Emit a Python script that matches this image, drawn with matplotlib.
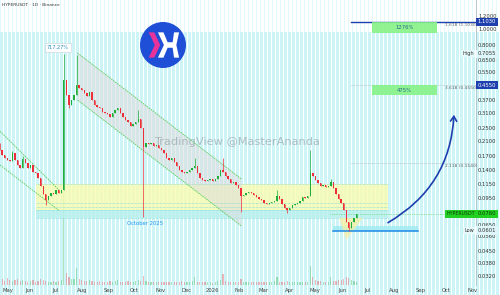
import numpy as np
import pandas as pd
import matplotlib
matplotlib.use("Agg")
import matplotlib.pyplot as plt
import matplotlib.transforms as mtransforms
from matplotlib.patches import Rectangle, Polygon, Circle, FancyArrowPatch
from matplotlib.ticker import NullLocator

plt.rcParams['font.family'] = ['DejaVu Sans']

# ---------------- data ----------------
symbol_title = "HYPERUSDT · 1D · Binance"
candle_start = "2025-04-27"
candle_step_days = 3
first_open = 0.1900
closes = [
    0.1849, 0.1724, 0.1653, 0.1608, 0.1585, 0.1773, 0.1608, 0.1499, 0.1438, 0.1630,
    0.1542, 0.1438, 0.1499, 0.1360, 0.1341, 0.1250, 0.1118, 0.1000, 0.0920, 0.0972,
    0.1014, 0.1000, 0.1057, 0.1014, 0.1057, 0.4908, 0.3981, 0.3463, 0.3713, 0.3981,
    0.4576, 0.4389, 0.4270, 0.4094, 0.3925, 0.4152, 0.3713, 0.3463, 0.3368, 0.3321,
    0.3141, 0.3097, 0.3054, 0.2929, 0.3097, 0.3229, 0.3321, 0.3097, 0.2929, 0.2809,
    0.2731, 0.2583, 0.2656, 0.2731, 0.2848, 0.2512, 0.1929, 0.2040, 0.2011, 0.2040,
    0.1956, 0.1983, 0.1902, 0.1849, 0.1773, 0.1653, 0.1608, 0.1653, 0.1563, 0.1478,
    0.1398, 0.1360, 0.1341, 0.1360, 0.1398, 0.1438, 0.1478, 0.1341, 0.1250, 0.1216,
    0.1199, 0.1216, 0.1233, 0.1199, 0.1233, 0.1286, 0.1398, 0.1360, 0.1286, 0.1233,
    0.1166, 0.1182, 0.1134, 0.1087, 0.0972, 0.0986, 0.1014, 0.1028, 0.1014, 0.0986,
    0.0959, 0.0933, 0.0920, 0.0882, 0.0870, 0.0882, 0.0894, 0.0907, 0.0972, 0.0933,
    0.0870, 0.0822, 0.0800, 0.0822, 0.0858, 0.0870, 0.0882, 0.0907, 0.0959, 0.0946,
    0.0972, 0.1341, 0.1286, 0.1216, 0.1166, 0.1118, 0.1134, 0.1102, 0.1118, 0.1182,
    0.1087, 0.1000, 0.0933, 0.0882, 0.0800, 0.0676, 0.0621, 0.0676, 0.0715, 0.0760,
]
high_wicks = {0: 0.2040, 5: 0.1830, 9: 0.1690, 25: 0.7055, 30: 0.6960, 54: 0.3229,
              76: 0.1653, 87: 0.1653, 108: 0.1057, 121: 0.1849, 129: 0.1233}
low_wicks = {18: 0.0863, 27: 0.3321, 56: 0.0725, 94: 0.0778, 112: 0.0767, 136: 0.0601}
volumes = [
    5, 6, 4, 7, 5, 4, 5, 6, 4, 5,
    4, 3, 4, 5, 3, 4, 6, 5, 4, 3,
    3, 4, 3, 4, 5, 100, 12, 8, 6, 6,
    18, 6, 5, 4, 4, 5, 4, 3, 3, 4,
    3, 3, 3, 4, 3, 4, 5, 3, 3, 3,
    4, 3, 3, 4, 5, 4, 9, 4, 3, 3,
    3, 3, 3, 3, 3, 3, 3, 3, 3, 3,
    3, 4, 3, 3, 3, 4, 8, 3, 3, 3,
    3, 3, 3, 2, 3, 4, 5, 11, 4, 3,
    3, 3, 3, 3, 6, 3, 3, 3, 3, 3,
    3, 3, 3, 3, 3, 3, 3, 4, 8, 3,
    3, 3, 4, 3, 3, 3, 3, 3, 3, 3,
    3, 20, 8, 5, 4, 4, 3, 3, 3, 8,
    4, 4, 5, 5, 6, 8, 7, 5, 4, 3,
]

y_ticks = [1.2, 1.0, 0.8, 0.65, 0.55, 0.37, 0.31, 0.25, 0.21, 0.17, 0.14,
           0.115, 0.095, 0.065, 0.056, 0.045, 0.038, 0.032]
month_ticks = ["2025-05-01", "2025-06-01", "2025-07-01", "2025-08-01", "2025-09-01",
               "2025-10-01", "2025-11-01", "2025-12-01", "2026-01-01", "2026-02-01",
               "2026-03-01", "2026-04-01", "2026-05-01", "2026-06-01", "2026-07-01",
               "2026-08-01", "2026-09-01", "2026-10-01", "2026-11-01"]
month_labels = ["May", "Jun", "Jul", "Aug", "Sep", "Oct", "Nov", "Dec", "2026", "Feb",
                "Mar", "Apr", "May", "Jun", "Jul", "Aug", "Sep", "Oct", "Nov"]

price_high = 0.7055
price_low = 0.0601
price_last = 0.0760
target_levels = [1.1030, 0.4550]
target_gains = ["1276%", "475%"]
fib_texts = ["1.618 (1.1030)", "3.618 (0.4550)", "2.118 (0.1540)"]
fib_mid_level = 0.1540
spike_gain_text = "717.27%"

# ---------------- helpers ----------------
ref = pd.Timestamp("2025-05-01")
def dn(s):
    return (pd.Timestamp(s) - ref).days

W, H = 500, 295
fig = plt.figure(figsize=(W / 100, H / 100), dpi=100)
fig.patch.set_facecolor('white')

# background striped panel (pixel coordinates)
bg = fig.add_axes([0, 0, 1, 1], zorder=0)
bg.set_xlim(0, W); bg.set_ylim(H, 0); bg.axis('off')
for k in range(0, W, 4):
    bg.add_patch(Rectangle((k, 32), 3, H - 32, fc='#cdf4f7', ec='none'))
    bg.add_patch(Rectangle((k, 0), 1, 32, fc='#e4f9fb', ec='none'))

rect = [0, 10 / H, 476 / W, 285 / H]
vax = fig.add_axes(rect, zorder=1)
ax = fig.add_axes(rect, zorder=2)
for a in (vax, ax):
    a.patch.set_visible(False)

xmin, xmax = -3.5, 552.6
n = len(closes)
xs = dn(candle_start) + candle_step_days * np.arange(n)
opens = [first_open] + closes[:-1]

up_c, down_c = '#1fae3a', '#ee2f3a'
# volume
vax.set_xlim(xmin, xmax)
vax.set_ylim(0, max(volumes) / 0.34)
vax.axis('off')
vcols = [up_c if closes[i] >= opens[i] else down_c for i in range(n)]
vax.bar(xs, volumes, width=1.4, color=vcols, alpha=0.35, linewidth=0)

ax.set_yscale('log')
ax.set_xlim(xmin, xmax)
ax.set_ylim(0.0281, 1.498)

# support zone
z0, z1 = dn("2025-06-08"), dn("2026-07-25")
ax.add_patch(Rectangle((z0, 0.0800), z1 - z0, 0.1150 - 0.0800, fc='#fbfcb0', ec='none', alpha=0.8, zorder=1))
ax.add_patch(Rectangle((z0, 0.0715), z1 - z0, 0.0800 - 0.0715, fc='#b8f0ec', ec='none', alpha=0.8, zorder=1))
for lvl in (0.1150, 0.0882, 0.0834, 0.0800, 0.0715):
    ax.plot([z0, z1], [lvl, lvl], color='#7fd8d8', lw=0.5, ls=(0, (1, 1)), zorder=1.5)

# descending channel (gray)
c0, c1 = dn("2025-07-27"), dn("2026-02-04")
ax.add_patch(Polygon([(c0, 0.7155), (c1, 0.1228), (c1, 0.0637), (c0, 0.3713)],
                     closed=True, fc='#dcdcdc', ec='none', alpha=0.55, zorder=1.2))
ax.plot([c0, c1], [0.7155, 0.1228], color='#5ccf5c', lw=0.6, ls=(0, (2, 1)), zorder=2)
ax.plot([c0, c1], [0.3713, 0.0637], color='#5ccf5c', lw=0.6, ls=(0, (2, 1)), zorder=2)
# earlier channel
ax.plot([xmin, dn("2025-07-06")], [0.240, 0.1050], color='#5ccf5c', lw=0.6, ls=(0, (2, 1)), zorder=2)
ax.plot([xmin, dn("2025-07-06")], [0.150, 0.0790], color='#5ccf5c', lw=0.6, ls=(0, (2, 1)), zorder=2)

# low box + triangle
b0, b1 = dn("2026-05-21"), dn("2026-08-29")
ax.add_patch(Rectangle((b0, price_low), b1 - b0, 0.0640 - price_low, fc='#9feaf2', ec='none', alpha=0.8, zorder=1.5))
ax.plot([b0, b1], [price_low, price_low], color='#1e88e5', lw=1.1, zorder=3)
ax.add_patch(Polygon([(dn("2026-05-29"), 0.0715), (dn("2026-06-25"), 0.0715), (dn("2026-06-06"), 0.0528)],
                     closed=True, fc='#f6f0a0', ec='none', alpha=0.75, zorder=1.6))

# candles
for i in range(n):
    o, c = opens[i], closes[i]
    hi = high_wicks.get(i, max(o, c))
    lo = low_wicks.get(i, min(o, c))
    col = up_c if c >= o else down_c
    ax.vlines(xs[i], lo, hi, color=col, lw=0.5, zorder=4)
    ax.bar(xs[i], max(max(o, c) - min(o, c), min(o, c) * 0.01), bottom=min(o, c),
           width=1.6, color=col, linewidth=0, zorder=5)

# targets
f0 = dn("2026-06-12")
t0, t1 = dn("2026-07-06"), dn("2026-09-20")
ax.plot([f0, xmax], [target_levels[0]] * 2, color='#1e3fae', lw=1.0, zorder=3)
ax.plot([f0, xmax], [target_levels[1]] * 2, color='#b0b8c0', lw=0.5, ls=(0, (1, 1)), zorder=3)
ax.plot([f0, xmax], [fib_mid_level] * 2, color='#b0b8c0', lw=0.5, ls=(0, (1, 1)), zorder=3)
box_bottoms = [0.946, 0.398]
for lvl, bb, g in zip(target_levels, box_bottoms, target_gains):
    ax.add_patch(Rectangle((t0, bb), t1 - t0, lvl - bb, fc='#86f286', ec='none', alpha=0.9, zorder=3))
    ax.text((t0 + t1) / 2, np.sqrt(lvl * bb), g, ha='center', va='center', fontsize=3.8,
            color='#2a6a8a', zorder=6)

trans = mtransforms.blended_transform_factory(ax.transAxes, ax.transData)
fx = 445 / 476
ax.text(fx, target_levels[0] * 0.985, fib_texts[0], transform=trans, ha='left', va='top', fontsize=3.2, color='#666')
ax.text(fx, target_levels[1] * 0.985, fib_texts[1], transform=trans, ha='left', va='top', fontsize=3.2, color='#666')
ax.text(fx, fib_mid_level * 0.985, fib_texts[2], transform=trans, ha='left', va='top', fontsize=3.2, color='#666')

# current price line
ax.plot([dn("2026-05-18"), dn("2026-09-29")], [price_last] * 2, color='#4fd04f', lw=0.5,
        ls=(0, (1, 1.5)), zorder=3)

# arrow
arr = FancyArrowPatch((dn("2026-07-22"), 0.0658), (dn("2026-10-10"), 0.3140),
                      connectionstyle="arc3,rad=0.28",
                      arrowstyle='->,head_length=3.5,head_width=2.2',
                      lw=1.2, color='#1e3fae', zorder=7)
ax.add_patch(arr)

# annotations
ax.text(dn("2025-10-14"), 0.0667, "October 2025", ha='center', va='center', fontsize=3.8,
        color='#2196f3', zorder=6)
ax.text(dn("2025-07-04"), 0.772, spike_gain_text, ha='center', va='center', fontsize=3.6,
        color='#2a8fbd', zorder=6,
        bbox=dict(boxstyle='square,pad=0.35', fc='white', ec='#c8d0d8', lw=0.4))

# axes styling
for s in ('top', 'left', 'bottom'):
    ax.spines[s].set_visible(False)
ax.spines['right'].set_color('#aab4bb')
ax.spines['right'].set_linewidth(0.5)
ax.yaxis.tick_right()
ax.yaxis.set_minor_locator(NullLocator())
ax.set_yticks(y_ticks)
ax.set_yticklabels([f"{v:.4f}" for v in y_ticks])
ax.tick_params(axis='y', length=0, pad=1.5, labelsize=3.8, labelcolor='#333')
ax.set_xticks([dn(m) for m in month_ticks])
ax.set_xticklabels(month_labels)
ax.tick_params(axis='x', length=0, pad=2, labelsize=3.8, labelcolor='#444')
ax.get_xticklabels()[0].set_horizontalalignment('left')

def axis_box(price, text, fc, tc):
    ax.text(1.004, price, text, transform=trans, ha='left', va='center', fontsize=3.8, color=tc,
            bbox=dict(boxstyle='square,pad=0.3', fc=fc, ec='none'), clip_on=False, zorder=20)

axis_box(target_levels[0], f"{target_levels[0]:.4f}", '#1e3fae', 'white')
axis_box(target_levels[1], f"{target_levels[1]:.4f}", '#1e3fae', 'white')
axis_box(price_high, f"{price_high:.4f}", '#dff7fa', '#333')
axis_box(price_low, f"{price_low:.4f}", '#dff7fa', '#333')
axis_box(price_last, f"{price_last:.4f}", '#22d022', '#0a3a0a')
ax.text(0.996, price_high, "High", transform=trans, ha='right', va='center', fontsize=3.6, color='#333',
        bbox=dict(boxstyle='square,pad=0.2', fc='#e6fafc', ec='none'), zorder=20)
ax.text(0.996, price_low, "Low", transform=trans, ha='right', va='center', fontsize=3.6, color='#333',
        bbox=dict(boxstyle='square,pad=0.2', fc='#e6fafc', ec='none'), zorder=20)
ax.text(0.998, price_last, "HYPERUSDT", transform=trans, ha='right', va='center', fontsize=3.4, color='#0a3a0a',
        bbox=dict(boxstyle='square,pad=0.3', fc='#22d022', ec='none'), zorder=20)

# overlay: title, watermark
fig.text(2 / W, 1 - 5 / H, symbol_title, ha='left', va='center', fontsize=3.2, color='#333', zorder=12)
fig.text(237 / W, 1 - 142 / H, "TradingView @MasterAnanda", ha='center', va='center', fontsize=8.2,
         color='#9aa4ab', alpha=0.7, zorder=12)

# logo
lax = fig.add_axes([140 / W, 1 - 68 / H, 46 / W, 46 / H], zorder=15)
lax.set_xlim(-1, 1); lax.set_ylim(-1, 1); lax.axis('off')
lax.add_patch(Circle((0, 0), 1.0, fc='#1f4fd6', ec='none'))
lax.add_patch(Polygon([(-0.62, 0.55), (-0.38, 0.55), (-0.12, 0.0), (-0.38, -0.55), (-0.62, -0.55), (-0.36, 0.0)],
                      closed=True, fc='#e8339a', ec='none'))
lax.add_patch(Polygon([(-0.22, 0.55), (0.02, 0.55), (0.20, 0.12), (0.42, 0.12), (0.48, 0.55), (0.70, 0.55),
                       (0.58, 0.0), (0.70, -0.55), (0.48, -0.55), (0.42, -0.12), (0.20, -0.12),
                       (0.02, -0.55), (-0.22, -0.55), (0.04, 0.0)],
                      closed=True, fc='white', ec='none'))

fig.savefig("out.png", dpi=100, facecolor='white')
